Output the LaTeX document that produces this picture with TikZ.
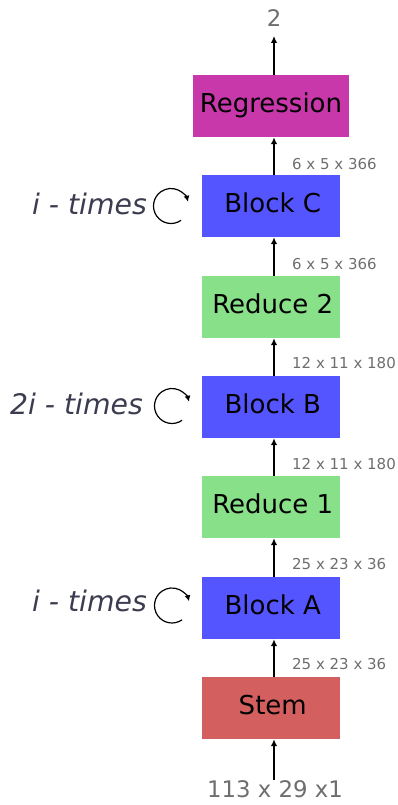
\documentclass[tikz,border=0pt]{standalone}
\usepackage{fontspec}
\setmainfont{DejaVu Sans}
\usetikzlibrary{arrows.meta}
\definecolor{regcol}{HTML}{C838AA}
\definecolor{blockcol}{HTML}{5555FF}
\definecolor{reducecol}{HTML}{88E088}
\definecolor{stemcol}{HTML}{D45F5F}
\definecolor{dimcol}{HTML}{6E6E6E}
\definecolor{loopcol}{HTML}{3C3C50}
\newcommand{\nudge}{\hspace*{3.5pt}}
\tikzset{
  box/.style={minimum width=138pt, minimum height=62pt, inner sep=0pt,
    font=\fontsize{26}{30}\selectfont, text=black,
    text height=18pt, text depth=4.5pt},
  flow/.style={line width=1.4pt, -{Latex[length=7pt,width=6.5pt]}},
  dims/.style={anchor=base west, inner sep=0pt, text=dimcol,
    font=\fontsize{15}{18}\selectfont},
  iolabel/.style={anchor=base, inner sep=0pt, text=dimcol,
    font=\fontsize{22.8}{26}\selectfont},
  repeat/.style={anchor=base east, inner sep=0pt, text=loopcol,
    font=\fontsize{28.3}{33}\selectfont\itshape},
  loop/.style={line width=1.2pt, -{Latex[length=6pt,width=6pt]}}
}
\begin{document}
\begin{tikzpicture}[x=1pt,y=1pt]
\useasboundingbox (0,0) rectangle (398,805);
% processing stages, bottom to top
\node[box, fill=stemcol]   (stem)  at (271,97)  {\nudge Stem};
\node[box, fill=blockcol]  (blka)  at (271,197) {\nudge Block A};
\node[box, fill=reducecol] (red1)  at (271,298) {\nudge Reduce 1};
\node[box, fill=blockcol]  (blkb)  at (271,398) {\nudge Block B};
\node[box, fill=reducecol] (red2)  at (271,498) {\nudge Reduce 2};
\node[box, fill=blockcol]  (blkc)  at (271,599) {\nudge Block C};
\node[box, fill=regcol, minimum width=156pt] (regr) at (271,699) {Regression};
% data flow column
\coordinate (ax) at (274,0);
\coordinate (infoot) at (274,25);
\coordinate (outtip) at (274,769);
\node[iolabel] (inlbl)  at (275,8)   {113 x 29 x1};
\node[iolabel] (outlbl) at (274,778.5) {2};
\draw[flow] (infoot) -- (stem.south -| ax);
\draw[flow] (stem.north -| ax) -- (blka.south -| ax);
\draw[flow] (blka.north -| ax) -- (red1.south -| ax);
\draw[flow] (red1.north -| ax) -- (blkb.south -| ax);
\draw[flow] (blkb.north -| ax) -- (red2.south -| ax);
\draw[flow] (red2.north -| ax) -- (blkc.south -| ax);
\draw[flow] (blkc.north -| ax) -- (regr.south -| ax);
\draw[flow] (regr.north -| ax) -- (outtip);
% tensor shapes between stages
\node[dims] (d1) at (292,135) {25 x 23 x 36};
\node[dims] (d2) at (292,235) {25 x 23 x 36};
\node[dims] (d3) at (292,335) {12 x 11 x 180};
\node[dims] (d4) at (292,436) {12 x 11 x 180};
\node[dims] (d5) at (292,535) {6 x 5 x 366};
\node[dims] (d6) at (292,635) {6 x 5 x 366};
% repetition markers
\coordinate (loopa) at (172,199.5);
\coordinate (loopb) at (172,399);
\coordinate (loopc) at (171,599);
\foreach \c in {loopa,loopb,loopc}{
  \draw[loop] (\c) ++(-55:17.5) arc[start angle=-55, end angle=-346, radius=17.5];
}
\node[repeat] (ra) at (147,193) {i - times};
\node[repeat] (rb) at (143,390) {2i - times};
\node[repeat] (rc) at (147,590) {i - times};
\end{tikzpicture}
\end{document}
